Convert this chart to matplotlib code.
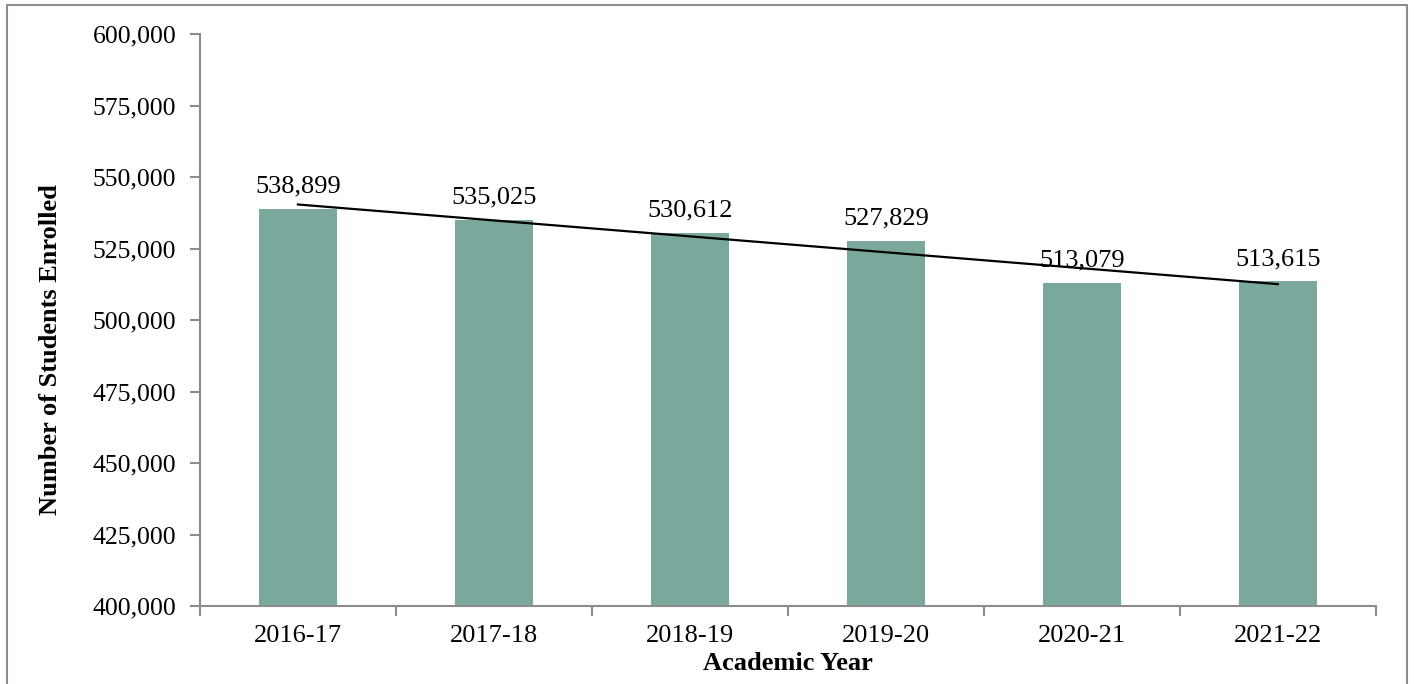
import matplotlib.pyplot as plt
import matplotlib.patches as patches
import matplotlib.ticker as ticker
import numpy as np

years = ['2016-17', '2017-18', '2018-19', '2019-20', '2020-21', '2021-22']
enrolled = [538899, 535025, 530612, 527829, 513079, 513615]

bar_color = '#7BA89D'
axis_color = '#8C8C8C'

plt.rcParams['font.family'] = ['Liberation Serif', 'DejaVu Serif']

fig = plt.figure(figsize=(14.14, 6.84), dpi=100)
ax = fig.add_axes([0.1414, 0.114, 0.8316, 0.836])

x = np.arange(len(years))
ax.bar(x, enrolled, width=0.4, color=bar_color, zorder=2)

# linear trendline
coef = np.polyfit(x, enrolled, 1)
ax.plot(x, np.polyval(coef, x), color='black', linewidth=1.6, zorder=3)

for xi, v in zip(x, enrolled):
    ax.annotate(f'{v:,}', (xi, v), xytext=(0, 8), textcoords='offset points',
                ha='center', va='bottom', fontsize=19, zorder=4)

ax.set_ylim(400000, 600000)
ax.set_xlim(-0.5, len(years) - 0.5)
ax.yaxis.set_major_locator(ticker.MultipleLocator(25000))
ax.yaxis.set_major_formatter(ticker.FuncFormatter(lambda v, p: f'{int(v):,}'))

ax.set_xticks(x)
ax.set_xticklabels(years)
ax.set_xticks(np.arange(-0.5, len(years)), minor=True)
ax.tick_params(axis='x', which='major', length=0, pad=14, labelsize=19)
ax.tick_params(axis='x', which='minor', length=7, color=axis_color, width=1.5)
ax.tick_params(axis='y', length=7, color=axis_color, width=1.5, pad=10, labelsize=18.5)

for s in ['top', 'right']:
    ax.spines[s].set_visible(False)
for s in ['left', 'bottom']:
    ax.spines[s].set_color(axis_color)
    ax.spines[s].set_linewidth(1.5)

ax.set_xlabel('Academic Year', fontsize=19, fontweight='bold', labelpad=3)
ax.set_ylabel('Number of Students Enrolled', fontsize=19, fontweight='bold')
ax.yaxis.set_label_coords(-0.117, 0.448)

# outer border of the chart area
fig.patches.append(patches.Rectangle((7 / 1414, -0.05), 1400 / 1414, 1.05 - 5 / 684,
                                     transform=fig.transFigure, fill=False,
                                     edgecolor=axis_color, linewidth=1.5))

fig.savefig('out.png', dpi=100)
